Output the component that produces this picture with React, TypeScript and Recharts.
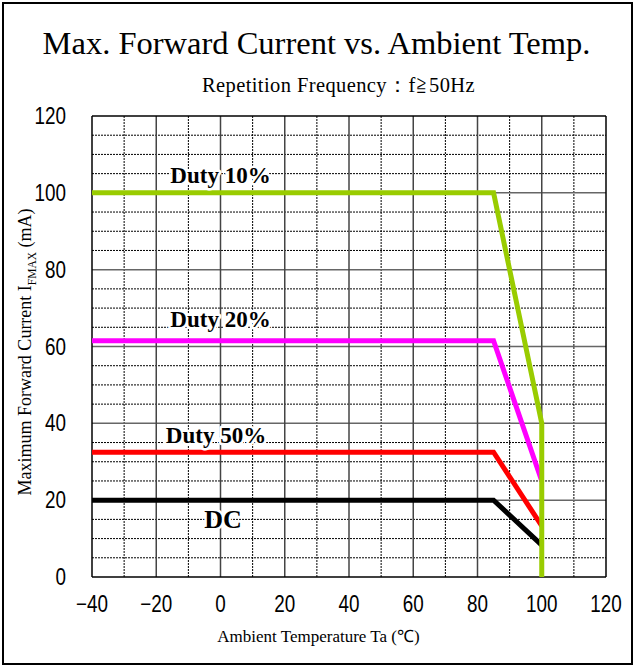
import React from "react";
import { LineChart, Line, XAxis, YAxis, ReferenceLine, ReferenceDot } from "recharts";

// temperature (°C) vs max forward current (mA)
const dc = [
  { t: -40, i: 20 },
  { t: 85, i: 20 },
  { t: 100, i: 8.3 },
];
const duty50 = [
  { t: -40, i: 32.5 },
  { t: 85, i: 32.5 },
  { t: 100, i: 13.3 },
];
const duty20 = [
  { t: -40, i: 61.5 },
  { t: 85, i: 61.5 },
  { t: 100, i: 25 },
];
const duty10 = [
  { t: -40, i: 100 },
  { t: 85, i: 100 },
  { t: 100, i: 40 },
  { t: 100, i: 0 },
];

const xTicks = [-40, -20, 0, 20, 40, 60, 80, 100, 120];
const yTicks = [0, 20, 40, 60, 80, 100, 120];
const xMinor = [-30, -10, 10, 30, 50, 70, 90, 110];
const xMajor = [-20, 0, 20, 40, 60, 80, 100];
const yMinor = [5, 10, 15, 25, 30, 35, 45, 50, 55, 65, 70, 75, 85, 90, 95, 105, 110, 115];
const yMajor = [20, 40, 60, 80, 100];

const seriesLabels = [
  { text: "Duty 10%", t: 0, i: 102.5, big: false },
  { text: "Duty 20%", t: 0, i: 65, big: false },
  { text: "Duty 50%", t: -1.4, i: 35, big: false },
  { text: "DC", t: 0.8, i: 12.7, big: true },
];

const serif = "'Liberation Serif', 'Times New Roman', serif";
const sans = "'Liberation Sans', Arial, sans-serif";

const fmt = (v: number) => (v < 0 ? "\u2212" + Math.abs(v) : String(v));

function XTick(props: any) {
  const { x, y, payload } = props;
  return (
    <text
      transform={`translate(${x},${y}) scale(0.82,1)`}
      textAnchor="middle"
      dy={17}
      fontFamily={sans}
      fontSize={23}
      fill="#000"
    >
      {fmt(payload.value)}
    </text>
  );
}

function YTick(props: any) {
  const { x, y, payload } = props;
  return (
    <text
      transform={`translate(${x},${y}) scale(0.82,1)`}
      textAnchor="end"
      dy={8}
      fontFamily={sans}
      fontSize={23}
      fill="#000"
    >
      {fmt(payload.value)}
    </text>
  );
}

export default function App() {
  return (
    <div style={{ position: "absolute", left: 0, top: 0, width: 633, height: 665, background: "#fff" }}>
      <div
        style={{
          position: "absolute",
          left: 2,
          top: 2,
          width: 627,
          height: 659,
          border: "2px solid #000",
        }}
      />
      <div
        style={{
          position: "absolute",
          top: 25,
          width: 633,
          textAlign: "center",
          fontFamily: serif,
          fontSize: 32.5,
          color: "#000",
        }}
      >
        Max. Forward Current vs. Ambient Temp.
      </div>
      <div
        style={{
          position: "absolute",
          left: 22,
          top: 71,
          width: 633,
          textAlign: "center",
          fontFamily: serif,
          fontSize: 20.5,
          letterSpacing: 0.4,
          color: "#000",
        }}
      >
        Repetition Frequency：f≧50Hz
      </div>
      <div
        style={{
          position: "absolute",
          left: 25 - 200,
          top: 352 - 12,
          width: 400,
          height: 24,
          textAlign: "center",
          transform: "rotate(-90deg)",
          fontFamily: serif,
          fontSize: 18,
          lineHeight: "24px",
          whiteSpace: "nowrap",
        }}
      >
        Maximum Forward Current I<sub style={{ fontSize: 11.5 }}>FMAX</sub> (mA)
      </div>
      <div
        style={{
          position: "absolute",
          top: 624,
          left: 2,
          width: 633,
          textAlign: "center",
          fontFamily: serif,
          fontSize: 17,
        }}
      >
        Ambient Temperature Ta (℃)
      </div>

      <div style={{ position: "absolute", left: 0, top: 0 }}>
        <LineChart width={633} height={665} margin={{ top: 116, right: 27, bottom: 58, left: 32 }}>
          <XAxis
            type="number"
            dataKey="t"
            domain={[-40, 120]}
            ticks={xTicks}
            axisLine={false}
            tickLine={false}
            height={30}
            tickMargin={12}
            tick={<XTick />}
            allowDuplicatedCategory={false}
          />
          <YAxis
            type="number"
            dataKey="i"
            domain={[0, 120]}
            ticks={yTicks}
            axisLine={false}
            tickLine={false}
            width={60}
            tickMargin={20}
            tick={<YTick />}
          />
          {yMinor.map((v) => (
            <ReferenceLine key={"ym" + v} y={v} stroke="#000" strokeWidth={1} strokeDasharray="2 1" />
          ))}
          {xMinor.map((v) => (
            <ReferenceLine key={"xm" + v} x={v} stroke="#000" strokeWidth={1} strokeDasharray="2 1" />
          ))}
          {yMajor.map((v) => (
            <ReferenceLine key={"yM" + v} y={v} stroke="#666" strokeWidth={1.5} />
          ))}
          {xMajor.map((v) => (
            <ReferenceLine key={"xM" + v} x={v} stroke="#444" strokeWidth={1.5} />
          ))}
          <ReferenceLine x={-40} stroke="#000" strokeWidth={1.5} />
          <ReferenceLine x={120} stroke="#000" strokeWidth={1.5} />
          <ReferenceLine y={0} stroke="#000" strokeWidth={1.5} />
          <ReferenceLine y={120} stroke="#000" strokeWidth={1.5} />

          <Line data={dc} dataKey="i" stroke="#000" strokeWidth={5} dot={false} isAnimationActive={false} />
          <Line data={duty50} dataKey="i" stroke="#ff0000" strokeWidth={5} dot={false} isAnimationActive={false} />
          <Line data={duty20} dataKey="i" stroke="#ff00ff" strokeWidth={5} dot={false} isAnimationActive={false} />
          <Line data={duty10} dataKey="i" stroke="#99cc00" strokeWidth={5} dot={false} isAnimationActive={false} />

          {seriesLabels.map((l) => (
            <ReferenceDot
              key={l.text}
              x={l.t}
              y={l.i}
              r={1}
              shape={(p: any) => (
                <text
                  x={p.cx}
                  y={p.cy}
                  textAnchor="middle"
                  fontFamily={serif}
                  fontWeight="bold"
                  fontSize={l.big ? 26 : 23}
                  fill="#000"
                  stroke="#fff"
                  strokeWidth={5}
                  paintOrder="stroke"
                  strokeLinejoin="round"
                >
                  {l.text}
                </text>
              )}
            />
          ))}
        </LineChart>
      </div>
    </div>
  );
}
